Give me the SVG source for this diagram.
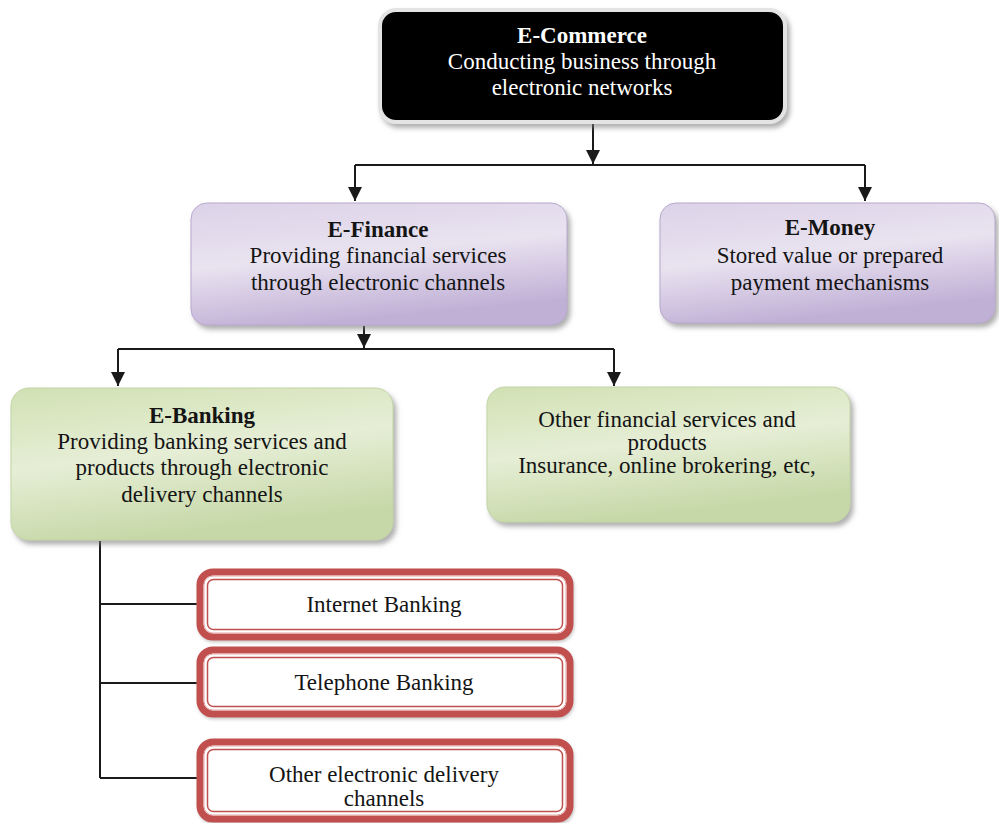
<svg xmlns="http://www.w3.org/2000/svg" width="999" height="823" viewBox="0 0 999 823">
  <defs>
    <style>
      text { font-family: "Liberation Serif", "Times New Roman", serif; font-size: 23px; fill: #141414; text-anchor: middle; }
      .b { font-weight: bold; }
      .w { fill: #ffffff; }
      .conn { stroke: #1a1a1a; stroke-width: 2; fill: none; }
      .purple { fill: url(#gPurple); stroke: #b7a8cc; stroke-width: 1; filter: url(#shadow); }
      .green { fill: url(#gGreen); stroke: #c3d3a5; stroke-width: 1; filter: url(#shadow); }
      .redOuter { fill: #ffffff; stroke: #c0504d; stroke-width: 7; filter: url(#shadowS); }
      .redInner { fill: none; stroke: #c0504d; stroke-width: 1.5; }
      .redMid { fill: none; stroke: #e3a9a7; stroke-width: 1; }
    </style>
    <filter id="shadow" x="-5%" y="-10%" width="115%" height="130%">
      <feDropShadow dx="3" dy="4" stdDeviation="2.5" flood-color="#7a7a7a" flood-opacity="0.6"/>
    </filter>
    <filter id="shadowS" x="-5%" y="-10%" width="115%" height="130%">
      <feDropShadow dx="1" dy="2" stdDeviation="1.5" flood-color="#999999" flood-opacity="0.5"/>
    </filter>
    <linearGradient id="gPurple" x1="0" y1="0" x2="0.3" y2="1">
      <stop offset="0" stop-color="#dcd2e8"/>
      <stop offset="0.5" stop-color="#e9e3f0"/>
      <stop offset="1" stop-color="#c1b0d6"/>
    </linearGradient>
    <linearGradient id="gGreen" x1="0" y1="0" x2="0.3" y2="1">
      <stop offset="0" stop-color="#d1e1b3"/>
      <stop offset="0.5" stop-color="#e6eed6"/>
      <stop offset="1" stop-color="#c6d8a7"/>
    </linearGradient>
    <marker id="arrow" viewBox="0 0 10 10" refX="10" refY="5" markerWidth="14" markerHeight="14" markerUnits="userSpaceOnUse" orient="auto">
      <path d="M0,0 L10,5 L0,10 z" fill="#1a1a1a"/>
    </marker>
  </defs>

  <rect width="999" height="823" fill="#ffffff"/>

  <g id="connectors">
    <path class="conn" d="M593,123 V164" marker-end="url(#arrow)"/>
    <path class="conn" d="M355,165 H865"/>
    <path class="conn" d="M355,165 V201" marker-end="url(#arrow)"/>
    <path class="conn" d="M865,165 V201" marker-end="url(#arrow)"/>
    <path class="conn" d="M364,326 V348" marker-end="url(#arrow)"/>
    <path class="conn" d="M118,349 H614"/>
    <path class="conn" d="M118,349 V386" marker-end="url(#arrow)"/>
    <path class="conn" d="M614,349 V386" marker-end="url(#arrow)"/>
    <path class="conn" d="M100,541 V778"/>
    <path class="conn" d="M100,604 H198"/>
    <path class="conn" d="M100,683 H198"/>
    <path class="conn" d="M100,778 H198"/>
  </g>

  <g id="ecommerce">
    <rect x="380" y="10" width="405" height="112" rx="16" fill="#000000" stroke="#e4e4e4" stroke-width="4" filter="url(#shadow)"/>
    <text class="b w" x="582" y="43">E-Commerce</text>
    <text class="w" x="582" y="69">Conducting business through</text>
    <text class="w" x="582" y="95">electronic networks</text>
  </g>

  <g id="efinance">
    <rect class="purple" x="191" y="203" width="376" height="122" rx="16"/>
    <text class="b" x="378" y="237">E-Finance</text>
    <text x="378" y="263">Providing financial services</text>
    <text x="378" y="290">through electronic channels</text>
  </g>

  <g id="emoney">
    <rect class="purple" x="660" y="203" width="335" height="120" rx="16"/>
    <text class="b" x="830" y="235">E-Money</text>
    <text x="830" y="263">Stored value or prepared</text>
    <text x="830" y="290">payment mechanisms</text>
  </g>

  <g id="ebanking">
    <rect class="green" x="11" y="388" width="382" height="152" rx="18"/>
    <text class="b" x="202" y="423">E-Banking</text>
    <text x="202" y="449">Providing banking services and</text>
    <text x="202" y="475">products through electronic</text>
    <text x="202" y="502">delivery channels</text>
  </g>

  <g id="otherfinancial">
    <rect class="green" x="487" y="387" width="363" height="135" rx="18"/>
    <text x="667" y="427">Other financial services and</text>
    <text x="667" y="450">products</text>
    <text x="667" y="473">Insurance, online brokering, etc,</text>
  </g>

  <g id="internetbanking">
    <rect class="redOuter" x="200" y="572" width="370" height="65" rx="13"/>
    <rect class="redMid" x="204" y="576" width="362" height="57" rx="9"/>
    <rect class="redInner" x="207.5" y="579.5" width="355" height="50" rx="6"/>
    <text x="384" y="612">Internet Banking</text>
  </g>

  <g id="telephonebanking">
    <rect class="redOuter" x="200" y="650" width="370" height="64" rx="13"/>
    <rect class="redMid" x="204" y="654" width="362" height="56" rx="9"/>
    <rect class="redInner" x="207.5" y="657.5" width="355" height="49" rx="6"/>
    <text x="384" y="690">Telephone Banking</text>
  </g>

  <g id="otherdelivery">
    <rect class="redOuter" x="200" y="742" width="370" height="77" rx="13"/>
    <rect class="redMid" x="204" y="746" width="362" height="69" rx="9"/>
    <rect class="redInner" x="207.5" y="749.5" width="355" height="62" rx="6"/>
    <text x="384" y="782">Other electronic delivery</text>
    <text x="384" y="806">channels</text>
  </g>
</svg>
